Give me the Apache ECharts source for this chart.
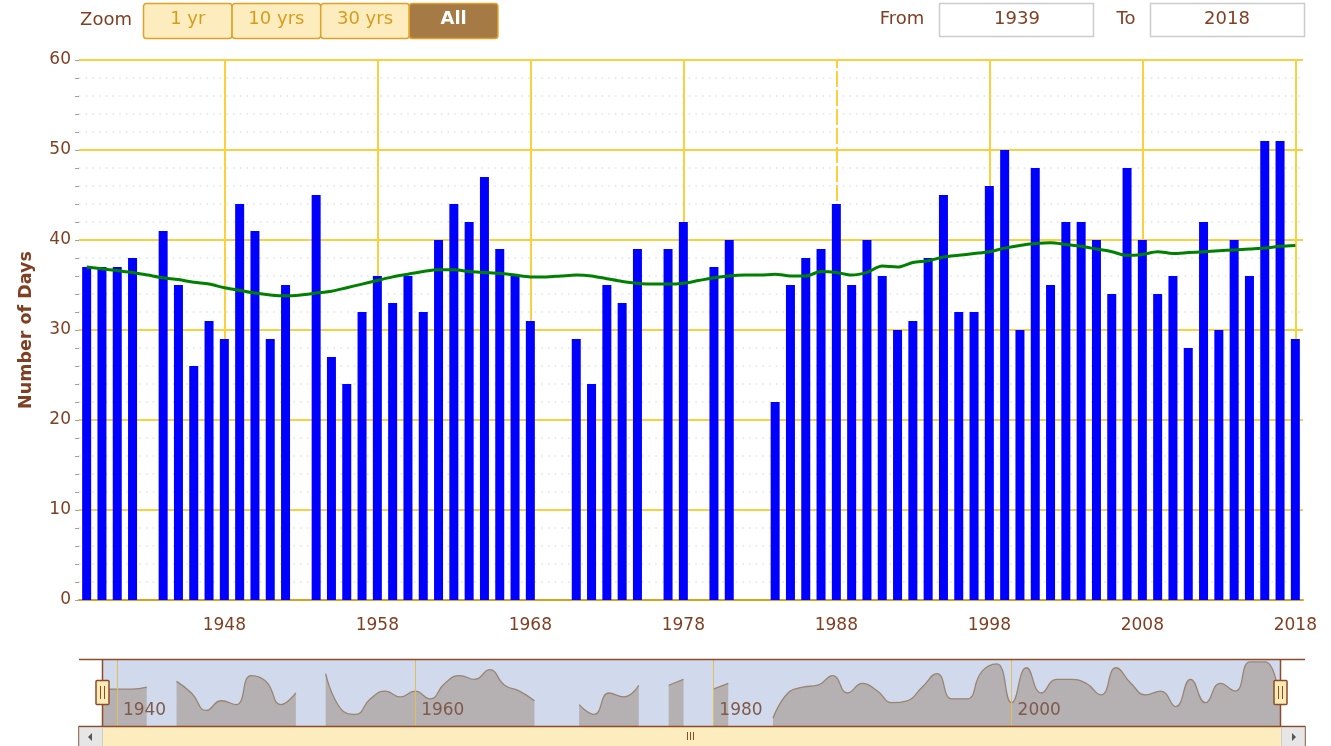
<!DOCTYPE html>
<html>
<head>
<meta charset="utf-8">
<title>Number of Days</title>
<script src="https://cdn.jsdelivr.net/npm/echarts@6.0.0/dist/echarts.min.js"></script>
<style>
    html, body { margin: 0; padding: 0; background: #fff; }
    #chart { width: 1331px; height: 746px; }
</style>
</head>
<body>
<div id="chart"></div>
<script>
// 年份（类目轴）
var years = [];
for (var y = 1939; y <= 2018; y++) years.push(String(y));

// 每年天数，null = 缺测
var days = [
    37, 37, 37, 38, null, 41, 35, 26, 31, 29,   // 1939-1948
    44, 41, 29, 35, null, 45, 27, 24, 32, 36,   // 1949-1958
    33, 36, 32, 40, 44, 42, 47, 39, 36, 31,     // 1959-1968
    null, null, 29, 24, 35, 33, 39, null, 39, 42, // 1969-1978
    null, 37, 40, null, null, 22, 35, 38, 39, 44, // 1979-1988
    35, 40, 36, 30, 31, 38, 45, 32, 32, 46,     // 1989-1998
    50, 30, 48, 35, 42, 42, 40, 34, 48, 40,     // 1999-2008
    34, 36, 28, 42, 30, 40, 36, 51, 51, 29      // 2009-2018
];

// 趋势线（绿色）
var trend = [
    37.0, 36.8, 36.6, 36.4, 36.1, 35.8, 35.6, 35.3, 35.1, 34.7,
    34.4, 34.1, 33.9, 33.8, 33.9, 34.1, 34.3, 34.7, 35.1, 35.5,
    35.9, 36.2, 36.5, 36.7, 36.7, 36.5, 36.4, 36.3, 36.1, 35.9,
    35.9, 36.0, 36.1, 36.0, 35.7, 35.4, 35.2, 35.1, 35.1, 35.2,
    35.5, 35.8, 36.0, 36.1, 36.1, 36.2, 36.0, 36.0, 36.5, 36.4,
    36.1, 36.4, 37.1, 37.0, 37.5, 37.7, 38.1, 38.3, 38.5, 38.7,
    39.1, 39.4, 39.6, 39.7, 39.5, 39.3, 39.0, 38.7, 38.3, 38.4,
    38.7, 38.5, 38.6, 38.7, 38.8, 38.9, 39.0, 39.1, 39.3, 39.4
];

// 竖向网格线所在年份
var gridYears = ['1948', '1958', '1968', '1978', '1988', '1998', '2008', '2018'];
var dashedYear = '1988';

// 按钮 / 输入框文字
var zoomButtons = ['1 yr', '10 yrs', '30 yrs', 'All'];
var fromYear = '1939';
var toYear = '2018';

var brown = '#7f3f22';
var gold = '#fccf3e';
var navBrown = '#8d4b2b';
var font = 'DejaVu Sans';

var myChart = echarts.init(document.getElementById('chart'));

// 顶部工具栏 + 导航器装饰
var graphics = [];
graphics.push({ type: 'text', x: 106, y: 20, z: 100,
    style: { text: 'Zoom', fill: brown, font: '18px "DejaVu Sans"', align: 'center', verticalAlign: 'middle' } });
for (var i = 0; i < zoomButtons.length; i++) {
    var bx = 143.5 + i * 88.6;
    var active = zoomButtons[i] === 'All';
    graphics.push({ type: 'rect', z: 100,
        shape: { x: bx, y: 3.5, width: 88.6, height: 35, r: 3 },
        style: { fill: active ? '#a67a45' : '#fdedbe', stroke: '#dfa126', lineWidth: 1.5 } });
    graphics.push({ type: 'text', z: 101, x: bx + 44.3, y: 19,
        style: { text: zoomButtons[i], fill: active ? '#ffffff' : '#d69c1c',
            font: (active ? 'bold ' : '') + '18px "DejaVu Sans"', align: 'center', verticalAlign: 'middle' } });
}
graphics.push({ type: 'text', x: 902, y: 19, z: 100,
    style: { text: 'From', fill: brown, font: '18px "DejaVu Sans"', align: 'center', verticalAlign: 'middle' } });
graphics.push({ type: 'rect', z: 100, shape: { x: 939.5, y: 3.5, width: 154, height: 33 },
    style: { fill: '#fff', stroke: '#cccccc', lineWidth: 1.5 } });
graphics.push({ type: 'text', x: 1017, y: 19, z: 101,
    style: { text: fromYear, fill: brown, font: '18px "DejaVu Sans"', align: 'center', verticalAlign: 'middle' } });
graphics.push({ type: 'text', x: 1126, y: 19, z: 100,
    style: { text: 'To', fill: brown, font: '18px "DejaVu Sans"', align: 'center', verticalAlign: 'middle' } });
graphics.push({ type: 'rect', z: 100, shape: { x: 1150.5, y: 3.5, width: 154, height: 33 },
    style: { fill: '#fff', stroke: '#cccccc', lineWidth: 1.5 } });
graphics.push({ type: 'text', x: 1227, y: 19, z: 101,
    style: { text: toYear, fill: brown, font: '18px "DejaVu Sans"', align: 'center', verticalAlign: 'middle' } });

// 导航器边框
graphics.push({ type: 'line', z: 100, shape: { x1: 79, y1: 659.5, x2: 1305, y2: 659.5 },
    style: { stroke: navBrown, lineWidth: 1.5 } });
graphics.push({ type: 'line', z: 100, shape: { x1: 102.5, y1: 659, x2: 102.5, y2: 727 },
    style: { stroke: navBrown, lineWidth: 1.5 } });
graphics.push({ type: 'line', z: 100, shape: { x1: 1280.5, y1: 659, x2: 1280.5, y2: 727 },
    style: { stroke: navBrown, lineWidth: 1.5 } });
// 滚动条
graphics.push({ type: 'rect', z: 100, shape: { x: 79, y: 726.5, width: 1226, height: 25 },
    style: { fill: '#fdedbe', stroke: navBrown, lineWidth: 1.5 } });
graphics.push({ type: 'rect', z: 101, shape: { x: 79.5, y: 727.5, width: 23, height: 22 },
    style: { fill: '#e6e6e6', stroke: '#cccccc', lineWidth: 1 } });
graphics.push({ type: 'rect', z: 101, shape: { x: 1281.5, y: 727.5, width: 23, height: 22 },
    style: { fill: '#e6e6e6', stroke: '#cccccc', lineWidth: 1 } });
graphics.push({ type: 'polygon', z: 102, shape: { points: [[88, 737], [92, 733], [92, 741]] },
    style: { fill: '#555' } });
graphics.push({ type: 'polygon', z: 102, shape: { points: [[1296, 737], [1292, 733], [1292, 741]] },
    style: { fill: '#555' } });
for (var g = 0; g < 3; g++) {
    graphics.push({ type: 'line', z: 102, shape: { x1: 687.5 + g * 3, y1: 732, x2: 687.5 + g * 3, y2: 740 },
        style: { stroke: navBrown, lineWidth: 1 } });
}
// 导航器手柄
[102.5, 1280.5].forEach(function (hx) {
    graphics.push({ type: 'rect', z: 103, shape: { x: hx - 6.5, y: 680.5, width: 13, height: 24, r: 1 },
        style: { fill: '#fdebb5', stroke: navBrown, lineWidth: 1.5 } });
    graphics.push({ type: 'line', z: 104, shape: { x1: hx - 2, y1: 686, x2: hx - 2, y2: 699 },
        style: { stroke: navBrown, lineWidth: 1 } });
    graphics.push({ type: 'line', z: 104, shape: { x1: hx + 2, y1: 686, x2: hx + 2, y2: 699 },
        style: { stroke: navBrown, lineWidth: 1 } });
});

var option = {
    animation: false,
    backgroundColor: '#ffffff',
    textStyle: { fontFamily: font },
    graphic: graphics,
    grid: [
        { left: 79, right: 28, top: 60, bottom: 146 },
        { left: 102, right: 51, top: 660, height: 66, show: true,
          backgroundColor: '#d1daec', borderWidth: 0 }
    ],
    xAxis: [
        {
            type: 'category',
            gridIndex: 0,
            data: years,
            boundaryGap: true,
            axisLine: { lineStyle: { color: '#d9a21c', width: 2 } },
            axisTick: {
                alignWithLabel: true,
                length: 14,
                lineStyle: { color: '#ccd6eb' },
                interval: function (idx, val) { return (+val - 1948) % 10 === 0; }
            },
            axisLabel: {
                color: brown,
                fontSize: 17,
                margin: 17,
                interval: function (idx, val) { return (+val - 1948) % 10 === 0; }
            },
            splitLine: { show: false }
        },
        {
            // 导航器轴，画在面积图上面
            type: 'category',
            gridIndex: 1,
            z: 10,
            data: years,
            boundaryGap: false,
            axisLine: { show: false },
            axisTick: { show: false },
            axisLabel: {
                inside: true,
                color: '#80594a',
                fontSize: 17,
                align: 'left',
                margin: 7,
                padding: [0, 0, 0, 6],
                hideOverlap: false,
                interval: function (idx, val) { return (+val - 1940) % 20 === 0; }
            },
            splitLine: {
                show: true,
                interval: function (idx, val) { return (+val - 1940) % 20 === 0; },
                lineStyle: { color: '#e2bd5a', width: 1 }
            }
        }
    ],
    yAxis: [
        {
            type: 'value',
            gridIndex: 0,
            min: 0,
            max: 60,
            interval: 10,
            name: 'Number of Days',
            nameLocation: 'middle',
            nameRotate: 90,
            nameGap: 44,
            nameTextStyle: { color: brown, fontSize: 17.5, fontWeight: 'bold' },
            axisLine: { show: false },
            axisTick: { show: true, length: 4, lineStyle: { color: '#a0a0a0' } },
            minorTick: { show: true, splitNumber: 5, length: 4, lineStyle: { color: '#a0a0a0' } },
            axisLabel: { color: brown, fontSize: 17, margin: 8 },
            splitLine: { lineStyle: { color: gold, width: 2 } },
            minorSplitLine: { show: true, lineStyle: { color: '#e2e2e2', width: 1.5, type: [1.5, 5.2] } }
        },
        {
            type: 'value',
            gridIndex: 1,
            min: 18,
            max: 52,
            show: false,
            splitLine: { show: false }
        }
    ],
    series: [
        {
            // 竖向网格线（放在柱子下面）
            name: 'grid',
            type: 'line',
            xAxisIndex: 0,
            yAxisIndex: 0,
            z: 1,
            silent: true,
            data: [],
            markLine: {
                z: 1,
                silent: true,
                symbol: ['none', 'none'],
                label: { show: false },
                emphasis: { disabled: true },
                lineStyle: { color: gold, width: 2, type: 'solid' },
                data: gridYears.map(function (yr) {
                    var item = { xAxis: yr };
                    if (yr === dashedYear) item.lineStyle = { color: gold, width: 2, type: [16, 3] };
                    return item;
                })
            }
        },
        {
            name: 'Number of Days',
            type: 'bar',
            xAxisIndex: 0,
            yAxisIndex: 0,
            z: 2,
            barWidth: 9,
            data: days,
            itemStyle: { color: '#0000ff' }
        },
        {
            name: 'Trend',
            type: 'line',
            xAxisIndex: 0,
            yAxisIndex: 0,
            z: 3,
            data: trend,
            smooth: 0.3,
            showSymbol: false,
            symbol: 'none',
            lineStyle: { color: '#008000', width: 3 }
        },
        {
            // 导航器
            name: 'navigator',
            type: 'line',
            xAxisIndex: 1,
            yAxisIndex: 1,
            z: 2,
            data: days,
            smooth: true,
            connectNulls: false,
            showSymbol: false,
            symbol: 'none',
            silent: true,
            lineStyle: { color: '#998471', width: 1.3 },
            areaStyle: { color: '#b5b1b3', opacity: 1, origin: 'start' }
        }
    ]
};
myChart.setOption(option);
</script>
</body>
</html>
